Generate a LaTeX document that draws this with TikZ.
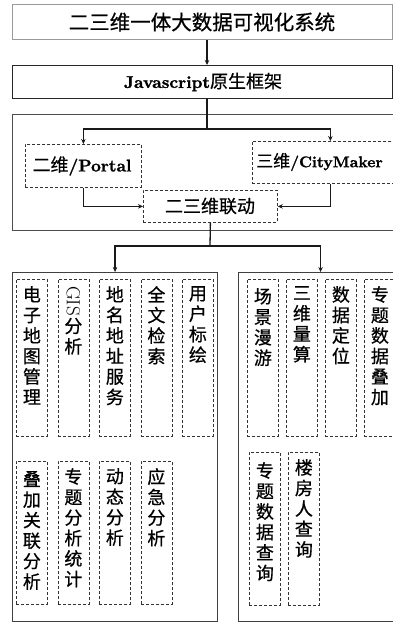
\documentclass[tikz,border=0pt]{standalone}
\usepackage{fontspec}
\newfontfamily\cjk[FakeBold=0.6]{Noto Sans CJK SC}
\newfontfamily\latb{lmroman10-bold}[Extension=.otf,FakeBold=1.2]
\usetikzlibrary{arrows.meta,positioning}
\begin{document}
\begin{tikzpicture}[x=1pt,y=-1pt,
  solidbox/.style={draw=black!85, line width=1.1pt, anchor=north west, inner sep=0pt},
  graybox/.style={draw=black!40, line width=1pt, anchor=north west, inner sep=0pt},
  dbox/.style={draw=black!80, densely dashed, line width=0.8pt, anchor=north west, inner sep=0pt},
  colbox/.style={dbox, minimum width=31pt},
  conn/.style={line width=1.3pt, draw=black!90},
  arr/.style={conn, -{Stealth[length=5pt,width=4.5pt]}},
  lbl/.style={font=\cjk\fontsize{18}{20}\selectfont, inner sep=0pt},
  vlbl/.style={font=\cjk\fontsize{18}{20.5}\selectfont, align=center, inner sep=0pt, below=7pt of #1}
]
\useasboundingbox (0,0) rectangle (393,623);
\clip (0,0) rectangle (393,623);

% top boxes
\node[graybox, minimum width=380pt, minimum height=35pt] (title) at (12,4) {};
\node[lbl, font=\cjk\fontsize{20.5}{20}\selectfont] (titletext) at (202,22) {二三维一体大数据可视化系统};
\node[solidbox, minimum width=380pt, minimum height=33pt] (js) at (12,65) {};
\node[lbl] (jstext) at (203,82) {{\latb\fontsize{17}{20}\selectfont Javascript}原生框架};

\node[solidbox, draw=black!70, minimum width=400pt, minimum height=116pt] (mid) at (12,114) {};
\node[dbox, minimum width=116pt, minimum height=43pt] (portal) at (25,144) {};
\node[lbl] (portaltext) at (82,166) {二维{\latb\fontsize{17}{20}\selectfont/Portal}};
\node[dbox, minimum width=156pt, minimum height=42pt] (city) at (252,141) {};
\node[lbl, anchor=west, font=\cjk\fontsize{17}{20}\selectfont] (citytext) at (256,162) {三维{\latb\fontsize{15.5}{20}\selectfont/CityMaker}};
\node[dbox, minimum width=134pt, minimum height=32pt] (link) at (143,190) {};
\node[lbl] (linktext) at (210,206) {二三维联动};

\coordinate (spine) at (207,0);
\coordinate (br1) at (207,129);
\coordinate (br2) at (210,246);

\draw[arr] (title.south -| spine) -- (js.north -| spine);
\draw[conn] (js.south -| spine) -- (br1);
\draw[arr] (br1) -| (portal.north);
\draw[arr] (br1) -| (city.north);
\draw[arr] (portal.south) |- (link.west);
\draw[arr] (city.south) |- (link.east);
\draw[conn] (link.south) -- (br2);

% bottom boxes
\node[solidbox, draw=black!75, minimum width=205pt, minimum height=349pt] (lbig) at (12,272) {};
\node[solidbox, draw=black!75, minimum width=164pt, minimum height=349pt] (rbig) at (238,272) {};
\draw[arr] (br2) -| (lbig.north);
\draw[arr] (br2) -| (rbig.north);

% left row 1
\node[colbox, minimum height=157pt] (a1) at (16,279) {};
\node[colbox, minimum height=157pt] (a2) at (57.5,279) {};
\node[colbox, minimum height=157pt] (a3) at (99,279) {};
\node[colbox, minimum height=157pt] (a4) at (140.5,279) {};
\node[colbox, minimum height=157pt] (a5) at (182,279) {};
\node[vlbl=a1.north] (ta1) {电\\子\\地\\图\\管\\理};
\node[vlbl=a2.north] (ta2) {\rotatebox{-90}{\rmfamily\fontsize{19}{19}\selectfont GIS}\\[1pt]分\\析};
\node[vlbl=a3.north] (ta3) {地\\名\\地\\址\\服\\务};
\node[vlbl=a4.north] (ta4) {全\\文\\检\\索};
\node[vlbl=a5.north] (ta5) {用\\户\\标\\绘};

% left row 2
\node[colbox, minimum height=143pt] (b1) at (16,461) {};
\node[colbox, minimum height=143pt] (b2) at (57.5,461) {};
\node[colbox, minimum height=143pt] (b3) at (99,461) {};
\node[colbox, minimum height=143pt] (b4) at (140.5,461) {};
\node[vlbl=b1.north, below=10pt of b1.north] (tb1) {叠\\加\\关\\联\\分\\析};
\node[vlbl=b2.north] (tb2) {专\\题\\分\\析\\统\\计};
\node[vlbl=b3.north] (tb3) {动\\态\\分\\析};
\node[vlbl=b4.north] (tb4) {应\\急\\分\\析};

% right row 1
\node[colbox, minimum height=157pt] (c1) at (247,279) {};
\node[colbox, minimum height=157pt] (c2) at (286,279) {};
\node[colbox, minimum height=157pt] (c3) at (325,279) {};
\node[colbox, minimum height=157pt] (c4) at (364,279) {};
\node[vlbl=c1.north, below=9pt of c1.north] (tc1) {场\\景\\漫\\游};
\node[vlbl=c2.north] (tc2) {三\\维\\量\\算};
\node[vlbl=c3.north] (tc3) {数\\据\\定\\位};
\node[vlbl=c4.north] (tc4) {专\\题\\数\\据\\叠\\加};

% right row 2
\node[colbox, minimum height=153pt] (d1) at (249,452) {};
\node[colbox, minimum height=153pt] (d2) at (288,452) {};
\node[vlbl=d1.north, below=10pt of d1.north] (td1) {专\\题\\数\\据\\查\\询};
\node[vlbl=d2.north] (td2) {楼\\房\\人\\查\\询};
\end{tikzpicture}
\end{document}
